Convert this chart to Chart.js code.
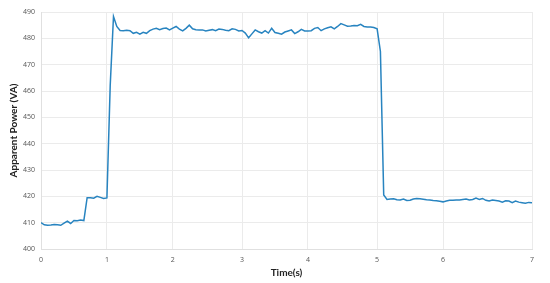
<!DOCTYPE html>
<html>
<head>
<meta charset="utf-8">
<script src="https://cdn.jsdelivr.net/npm/chart.js@4/dist/chart.umd.min.js"></script>
<style>
html,body{margin:0;padding:0;background:#fff;}
#wrap{width:550px;height:283px;}
</style>
</head>
<body>
<div id="wrap"><canvas id="c" width="550" height="283"></canvas></div>
<script>
// Sample positions (index along the time axis) at which time labels appear
const tickPositions = [0, 20, 40, 61, 81, 102, 122, 149];
const tickLabels = ['0', '1', '2', '3', '4', '5', '6', '7'];

// Apparent power samples (VA)
const power = [
  410, 409.2, 409, 409.1, 409.3, 409.2, 409, 409.8, 410.6, 409.7,
  410.8, 410.7, 411, 410.8, 419.5, 419.5, 419.3, 420, 419.6, 419.2,
  419.4, 462, 488.3, 484.5, 483.0, 482.9, 483.1, 482.9, 481.9, 482.3,
  481.6, 482.3, 481.9, 482.9, 483.5, 483.8, 483.3, 483.7, 483.9, 483.2,
  483.9, 484.5, 483.5, 482.8, 483.8, 485, 483.6, 483.3, 483.2, 483.2,
  482.8, 483.1, 483.3, 482.9, 483.5, 483.4, 483.1, 482.9, 483.6, 483.4,
  482.8, 483, 482, 480.2, 481.7, 483.2, 482.5, 482, 482.9, 482,
  483.8, 482.2, 481.9, 481.6, 482.4, 482.8, 483.2, 481.8, 482.5, 483.4,
  482.8, 482.8, 482.9, 483.8, 484.1, 482.9, 483.6, 484, 484.4, 483.6,
  484.5, 485.6, 485.1, 484.6, 484.7, 484.9, 484.8, 485.3, 484.5, 484.3,
  484.3, 484.1, 483.6, 475, 420.5, 418.8, 419, 419.1, 418.7, 418.6,
  419, 418.4, 418.5, 419, 419.2, 419.1, 418.9, 418.7, 418.6, 418.4,
  418.3, 418.1, 417.9, 418.2, 418.5, 418.5, 418.6, 418.6, 418.8, 419,
  418.6, 418.8, 419.3, 418.8, 419.2, 418.5, 418.2, 418.6, 418.4, 418.2,
  417.8, 418.3, 418.2, 417.6, 418.2, 417.8, 417.6, 417.4, 417.7, 417.6
];

const yTicks = [400, 410, 420, 430, 440, 450, 460, 470, 480, 490];

const points = power.map((v, i) => ({x: i, y: v}));

new Chart(document.getElementById('c'), {
  type: 'line',
  data: {
    datasets: [{
      data: points,
      borderColor: 'rgb(40,132,192)',
      borderWidth: 1.5,
      pointRadius: 0,
      tension: 0,
      fill: false
    }]
  },
  options: {
    responsive: false,
    animation: false,
    layout: {padding: {top: 12, right: 18, left: 4, bottom: 4}},
    plugins: {legend: {display: false}, tooltip: {enabled: false}},
    scales: {
      x: {
        type: 'linear',
        min: tickPositions[0],
        max: tickPositions[tickPositions.length - 1],
        afterBuildTicks: (axis) => { axis.ticks = tickPositions.map(v => ({value: v})); },
        afterFit: (scale) => { scale.height = 30; },
        ticks: {
          autoSkip: false,
          maxRotation: 0,
          padding: 7,
          color: '#555',
          font: {family: 'Open Sans', size: 7},
          callback: (v) => tickLabels[tickPositions.indexOf(v)]
        },
        grid: {color: '#ebebeb', drawTicks: false, lineWidth: 1},
        border: {color: '#e0e0e0'},
        title: {
          display: true,
          text: 'Time(s)',
          color: '#222',
          padding: {top: 0, bottom: 0},
          font: {family: 'Lato', size: 10, weight: 'bold'}
        }
      },
      y: {
        min: yTicks[0],
        max: yTicks[yTicks.length - 1],
        afterBuildTicks: (axis) => { axis.ticks = yTicks.map(v => ({value: v})); },
        afterFit: (scale) => { scale.width = 37; },
        ticks: {
          padding: 6,
          color: '#555',
          font: {family: 'Open Sans', size: 7}
        },
        grid: {color: '#ebebeb', drawTicks: false, lineWidth: 1},
        border: {color: '#e0e0e0'},
        title: {
          display: true,
          text: 'Apparent Power (VA)',
          color: '#222',
          padding: {top: 4, bottom: 0},
          font: {family: 'Lato', size: 10, weight: 'bold'}
        }
      }
    }
  }
});
</script>
</body>
</html>
